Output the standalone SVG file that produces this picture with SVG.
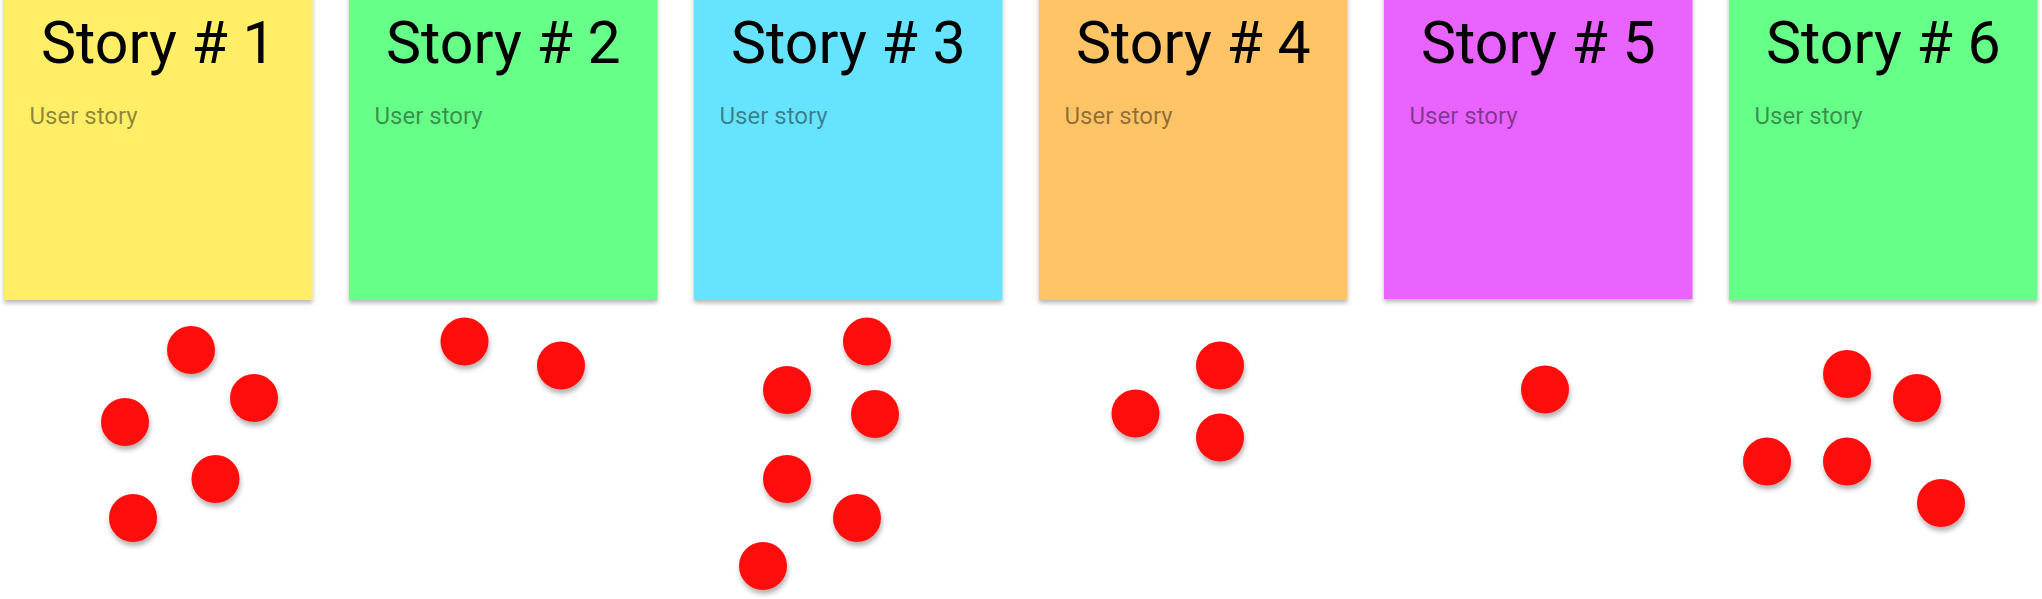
<svg xmlns="http://www.w3.org/2000/svg" width="2042" height="599" viewBox="0 0 2042 599">
<defs>
<filter id="cardShadow" x="-5%" y="-5%" width="110%" height="115%">
<feDropShadow dx="0" dy="3" stdDeviation="2" flood-color="#000" flood-opacity="0.28"/>
</filter>
<filter id="dotShadow" x="-40%" y="-40%" width="180%" height="190%">
<feDropShadow dx="1" dy="4" stdDeviation="2.5" flood-color="#000" flood-opacity="0.3"/>
</filter>
</defs>
<style>
.card{filter:url(#cardShadow);}
.title{font-family:Roboto,"Liberation Sans",sans-serif;font-size:59px;fill:#000;text-anchor:middle;}
.sub{font-family:Roboto,"Liberation Sans",sans-serif;font-size:24px;fill:#000;fill-opacity:0.45;}
.dot{fill:#FF0A0A;filter:url(#dotShadow);}
</style>
<rect width="2042" height="599" fill="#FFFFFF"/>
<g id="story1">
<rect class="card" x="4" y="-10" width="308.5" height="310" fill="#FFEE66"/>
<text class="title" x="158.3" y="62.5">Story # 1</text>
<text class="sub" x="29.5" y="124">User story</text>
</g>
<g id="story2">
<rect class="card" x="349" y="-10" width="308.5" height="310" fill="#66FF88"/>
<text class="title" x="503.3" y="62.5">Story # 2</text>
<text class="sub" x="374.5" y="124">User story</text>
</g>
<g id="story3">
<rect class="card" x="694" y="-10" width="308.5" height="310" fill="#66E4FF"/>
<text class="title" x="848.3" y="62.5">Story # 3</text>
<text class="sub" x="719.5" y="124">User story</text>
</g>
<g id="story4">
<rect class="card" x="1039" y="-10" width="308.5" height="310" fill="#FFC466"/>
<text class="title" x="1193.3" y="62.5">Story # 4</text>
<text class="sub" x="1064.5" y="124">User story</text>
</g>
<g id="story5">
<rect class="card" x="1384" y="-10" width="308.5" height="309" fill="#E864FF"/>
<text class="title" x="1538.3" y="62.5">Story # 5</text>
<text class="sub" x="1409.5" y="124">User story</text>
</g>
<g id="story6">
<rect class="card" x="1729" y="-10" width="308.5" height="310" fill="#66FF88"/>
<text class="title" x="1883.3" y="62.5">Story # 6</text>
<text class="sub" x="1754.5" y="124">User story</text>
</g>
<g id="votes1">
<circle class="dot" cx="191" cy="350" r="24"/>
<circle class="dot" cx="254" cy="398" r="24"/>
<circle class="dot" cx="125" cy="422" r="24"/>
<circle class="dot" cx="215.5" cy="479" r="24"/>
<circle class="dot" cx="133" cy="518" r="24"/>
</g>
<g id="votes2">
<circle class="dot" cx="464.5" cy="341.5" r="24"/>
<circle class="dot" cx="561" cy="365.5" r="24"/>
</g>
<g id="votes3">
<circle class="dot" cx="867" cy="341.5" r="24"/>
<circle class="dot" cx="787" cy="390" r="24"/>
<circle class="dot" cx="875" cy="414" r="24"/>
<circle class="dot" cx="787" cy="479" r="24"/>
<circle class="dot" cx="857" cy="518" r="24"/>
<circle class="dot" cx="763" cy="566" r="24"/>
</g>
<g id="votes4">
<circle class="dot" cx="1220" cy="365.5" r="24"/>
<circle class="dot" cx="1135.5" cy="413.5" r="24"/>
<circle class="dot" cx="1220" cy="437.5" r="24"/>
</g>
<g id="votes5">
<circle class="dot" cx="1545" cy="389.5" r="24"/>
</g>
<g id="votes6">
<circle class="dot" cx="1847" cy="374" r="24"/>
<circle class="dot" cx="1917" cy="398" r="24"/>
<circle class="dot" cx="1767" cy="461.5" r="24"/>
<circle class="dot" cx="1847" cy="461.5" r="24"/>
<circle class="dot" cx="1941" cy="503" r="24"/>
</g>
<g id="connectors"/>
</svg>
